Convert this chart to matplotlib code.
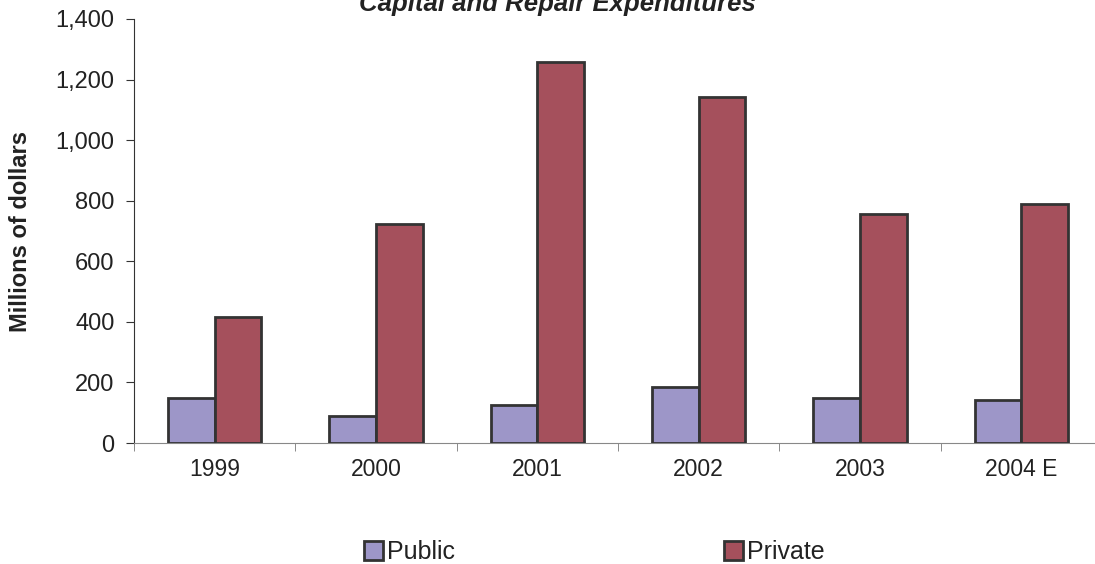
import numpy as np
import matplotlib.pyplot as plt
from matplotlib.patches import Patch

plt.rcParams['font.family'] = ['Liberation Sans', 'DejaVu Sans']

years = ['1999', '2000', '2001', '2002', '2003', '2004 E']
public = [148, 90, 126, 186, 150, 143]
private = [416, 724, 1258, 1142, 755, 788]

c_public = '#9D96C8'
c_private = '#A5505C'
edge = '#333333'
txt = '#222222'

fig = plt.figure(figsize=(10.95, 5.64), dpi=100)
ax = fig.add_axes([134 / 1095, 121 / 564, 968 / 1095, 424 / 564])

x = np.arange(len(years))
w = 0.29
ax.bar(x - w / 2, public, w, color=c_public, edgecolor=edge, linewidth=2, zorder=3)
ax.bar(x + w / 2, private, w, color=c_private, edgecolor=edge, linewidth=2, zorder=3)

ax.set_xlim(-0.5, len(years) - 0.5)
ax.set_ylim(0, 1400)
ax.set_yticks(range(0, 1401, 200))
ax.set_yticklabels([f'{v:,}' for v in range(0, 1401, 200)], fontsize=17, color=txt)
ax.set_xticks(x)
ax.set_xticklabels(years, fontsize=16.5, color=txt)
ax.set_xticks(np.arange(-0.5, len(years), 1), minor=True)
ax.tick_params(axis='x', which='major', length=0, pad=11)
ax.tick_params(axis='x', which='minor', length=6, color='#777777')
ax.tick_params(axis='y', length=6, color='#333333', pad=8)

for s in ['top', 'right']:
    ax.spines[s].set_visible(False)
ax.spines['left'].set_color('#333333')
ax.spines['bottom'].set_color('#888888')

ax.set_ylabel('Millions of dollars', fontsize=17, fontweight='bold', color=txt)
ax.yaxis.set_label_coords(-0.105, 0.5)
fig.text(0.509, 1 - 11 / 564, 'Capital and Repair Expenditures', fontsize=18.5,
         fontweight='bold', fontstyle='italic', ha='center', va='baseline', color=txt)

handles = [Patch(facecolor=c_public, edgecolor=edge, linewidth=2),
           Patch(facecolor=c_private, edgecolor=edge, linewidth=2)]
fig.legend(handles[:1], ['Public'], loc='center', bbox_to_anchor=(0.374, 0.021),
           frameon=False, fontsize=18, handlelength=0.75, handleheight=0.75,
           handletextpad=0.15, labelcolor=txt)
fig.legend(handles[1:], ['Private'], loc='center', bbox_to_anchor=(0.707, 0.021),
           frameon=False, fontsize=18, handlelength=0.75, handleheight=0.75,
           handletextpad=0.15, labelcolor=txt)

fig.savefig('out.png', dpi=100)
